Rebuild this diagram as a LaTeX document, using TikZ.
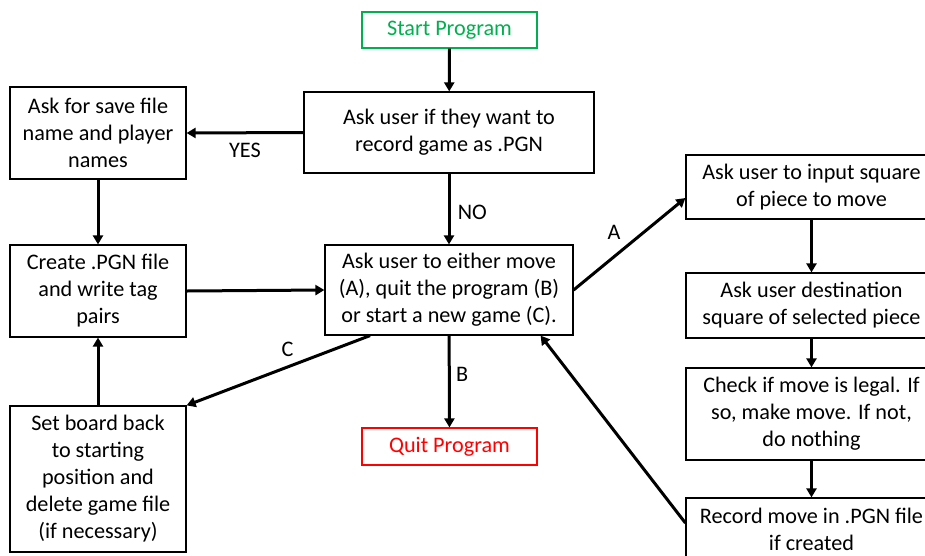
\documentclass[tikz,border=0pt]{standalone}
\usepackage{fontspec}
\setmainfont{Carlito}
\usetikzlibrary{arrows.meta}
\definecolor{startgreen}{HTML}{00B050}
\definecolor{quitred}{HTML}{FF0000}
\tikzset{
  box/.style={draw=black, line width=1.2pt, fill=white, align=center, inner sep=2pt,
    font=\fontsize{22.2}{27}\selectfont},
  termgreen/.style={box, draw=startgreen, text=startgreen},
  termred/.style={box, draw=quitred, text=quitred},
  flow/.style={line width=3pt, -{Triangle[length=9pt,width=10pt]}, shorten >=0pt},
  lbl/.style={font=\fontsize{22.2}{26}\selectfont}
}
\begin{document}
\begin{tikzpicture}[x=1pt,y=-1pt]
\useasboundingbox (0,0) rectangle (925,555);
\clip (0,0) rectangle (925,555);
\fill[white] (0,0) rectangle (925,555);

\node[termgreen, minimum width=175pt, minimum height=36pt] (start) at (449.5,30) {Start Program};
\node[box, minimum width=290pt, minimum height=81pt] (ask) at (449,132.5) {Ask user if they want to\\record game as .PGN};
\node[box, minimum width=176pt, minimum height=92pt] (save) at (98,133) {Ask for save file\\name and player\\names};
\node[box, minimum width=176pt, minimum height=92pt] (create) at (98,291) {Create .PGN file\\and write tag\\pairs};
\node[box, minimum width=248pt, minimum height=90pt] (move) at (449,290) {Ask user to either move\\(A), quit the program (B)\\or start a new game (C).};
\node[box, minimum width=176pt, minimum height=146pt] (reset) at (98,479) {Set board back\\to starting\\position and\\delete game file\\(if necessary)};
\node[termred, minimum width=175pt, minimum height=37pt] (quit) at (449.5,446.5) {Quit Program};

\node[box, minimum width=251pt, minimum height=64pt] (input) at (811.5,187) {Ask user to input square\\of piece to move};
\node[box, minimum width=251pt, minimum height=65pt] (dest) at (811.5,305.5) {Ask user destination\\square of selected piece};
\node[box, minimum width=251pt, minimum height=92pt] (check) at (811.5,414) {Check if move is legal. If\\so, make move. If not,\\do nothing};
\node[box, minimum width=251pt, minimum height=62pt] (record) at (811.5,529) {Record move in .PGN file\\if created};

\draw[flow] (start) -- (ask);
\draw[flow] (ask.west) -- (save.east) node[lbl, pos=0.5, below=6pt] {YES};
\draw[flow] (ask) -- (move) node[lbl, pos=0.55, right=4pt] {NO};
\draw[flow] (save) -- (create);
\draw[flow] (create.east) -- (move.west);
\draw[flow] (move.east) -- ([yshift=-11pt]input.west) node[lbl, pos=0.48, above left=2pt] {A};
\draw[flow] (input) -- (dest);
\draw[flow] (dest) -- (check);
\draw[flow] (check) -- (record);
\draw[flow] ([yshift=6pt]record.west) -- ([xshift=-33pt]move.south east);
\draw[flow] (move) -- (quit) node[lbl, pos=0.42, right=2pt] {B};
\draw[flow] ([xshift=-79pt]move.south) -- (reset.north east) node[lbl, pos=0.45, above=6pt] {C};
\draw[flow] (reset) -- (create);
\end{tikzpicture}
\end{document}
